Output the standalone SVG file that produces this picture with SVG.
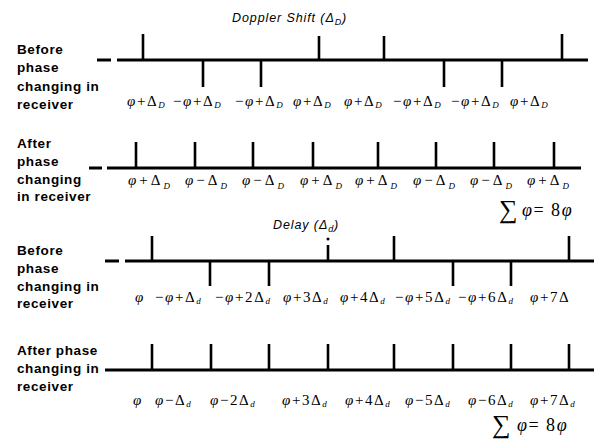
<svg xmlns="http://www.w3.org/2000/svg" width="594" height="441" viewBox="0 0 594 441">
<style>
.lbl{font-family:"Liberation Sans",Arial,sans-serif;font-weight:bold;font-size:13.5px;letter-spacing:0.6px;fill:#000}
.ttl{font-family:"Liberation Sans",Arial,sans-serif;font-style:italic;font-size:12.5px;letter-spacing:0.9px;fill:#000}
.m{font-family:"Liberation Serif","Times New Roman",serif;font-size:15px;letter-spacing:1.6px;fill:#000}
.m2{font-family:"Liberation Serif","Times New Roman",serif;font-size:15px;letter-spacing:3px;fill:#000}
.i{font-style:italic}
.s{font-style:italic;font-size:9px}
.ax{stroke:#000;stroke-width:3;fill:none}
.tk{stroke:#000;stroke-width:2.6;fill:none}
.sig{font-family:"Liberation Serif","DejaVu Serif",serif;font-size:26px;fill:#000}
.eq{font-family:"Liberation Serif","Times New Roman",serif;font-size:18px;letter-spacing:1.5px;fill:#000}
</style>
<rect width="594" height="441" fill="#fff"/>

<g id="row1">
<text class="ttl" x="232" y="22">Doppler Shift (<tspan>Δ</tspan><tspan font-size="9" dy="3">D</tspan><tspan dy="-3">)</tspan></text>
<text class="lbl"><tspan x="17" y="54">Before</tspan><tspan x="17" y="72">phase</tspan><tspan x="17" y="91">changing in</tspan><tspan x="17" y="109">receiver</tspan></text>
<line class="ax" x1="97" y1="60" x2="111" y2="60"/>
<line class="ax" x1="117" y1="60" x2="588" y2="60"/>
<path class="tk" d="M143 34V60M319 36V60M384 36V60M562 34V60M203 60V87M261 60V87M444 60V87M502 60V87"/>
<g class="m">
<text x="127" y="106"><tspan class="i">φ</tspan>+Δ<tspan class="s" dy="2">D</tspan></text>
<text x="173" y="106">−<tspan class="i">φ</tspan>+Δ<tspan class="s" dy="2">D</tspan></text>
<text x="235" y="106">−<tspan class="i">φ</tspan>+Δ<tspan class="s" dy="2">D</tspan></text>
<text x="293" y="106"><tspan class="i">φ</tspan>+Δ<tspan class="s" dy="2">D</tspan></text>
<text x="344" y="106"><tspan class="i">φ</tspan>+Δ<tspan class="s" dy="2">D</tspan></text>
<text x="393" y="106">−<tspan class="i">φ</tspan>+Δ<tspan class="s" dy="2">D</tspan></text>
<text x="451" y="106">−<tspan class="i">φ</tspan>+Δ<tspan class="s" dy="2">D</tspan></text>
<text x="510" y="106"><tspan class="i">φ</tspan>+Δ<tspan class="s" dy="2">D</tspan></text>
</g>
</g>

<g id="row2">
<text class="lbl"><tspan x="17" y="148">After</tspan><tspan x="17" y="166">phase</tspan><tspan x="17" y="184">changing</tspan><tspan x="17" y="201">in receiver</tspan></text>
<line class="ax" x1="89" y1="168" x2="102" y2="168"/>
<line class="ax" x1="107" y1="168" x2="581" y2="168"/>
<path class="tk" d="M136 142V168M195 142V168M253 142V168M313 142V168M378 142V168M436 142V168M494 142V168M554 142V168"/>
<g class="m2">
<text x="128" y="185"><tspan class="i">φ</tspan>+Δ<tspan class="s" dy="4">D</tspan></text>
<text x="185" y="185"><tspan class="i">φ</tspan>−Δ<tspan class="s" dy="4">D</tspan></text>
<text x="242" y="185"><tspan class="i">φ</tspan>−Δ<tspan class="s" dy="4">D</tspan></text>
<text x="300" y="185"><tspan class="i">φ</tspan>+Δ<tspan class="s" dy="4">D</tspan></text>
<text x="355" y="185"><tspan class="i">φ</tspan>+Δ<tspan class="s" dy="4">D</tspan></text>
<text x="413" y="185"><tspan class="i">φ</tspan>−Δ<tspan class="s" dy="4">D</tspan></text>
<text x="470" y="185"><tspan class="i">φ</tspan>−Δ<tspan class="s" dy="4">D</tspan></text>
<text x="527" y="185"><tspan class="i">φ</tspan>+Δ<tspan class="s" dy="4">D</tspan></text>
</g>
<text class="sig" x="499" y="218">∑</text>
<text class="eq" x="522" y="216"><tspan class="i">φ</tspan>= 8<tspan class="i">φ</tspan></text>
</g>

<g id="row3">
<text class="ttl" x="273" y="229">Delay (<tspan>Δ</tspan><tspan font-size="9" dy="3">d</tspan><tspan dy="-3">)</tspan></text>
<text class="lbl"><tspan x="17" y="255">Before</tspan><tspan x="17" y="273">phase</tspan><tspan x="17" y="291">changing in</tspan><tspan x="17" y="308">receiver</tspan></text>
<line class="ax" x1="105" y1="261" x2="119" y2="261"/>
<line class="ax" x1="125" y1="261" x2="594" y2="261"/>
<path class="tk" d="M152 236V261M328 245V261M394 236V261M569 236V261M210 261V286M269 261V286M453 261V286M511 261V286"/>
<circle cx="328" cy="239" r="1.5" fill="#000"/>
<g class="m">
<text x="135" y="302" class="i">φ</text>
<text x="155" y="302">−<tspan class="i">φ</tspan>+Δ<tspan class="s" dy="2">d</tspan></text>
<text x="215" y="302">−<tspan class="i">φ</tspan>+2Δ<tspan class="s" dy="2">d</tspan></text>
<text x="283" y="302"><tspan class="i">φ</tspan>+3Δ<tspan class="s" dy="2">d</tspan></text>
<text x="340" y="302"><tspan class="i">φ</tspan>+4Δ<tspan class="s" dy="2">d</tspan></text>
<text x="395" y="302">−<tspan class="i">φ</tspan>+5Δ<tspan class="s" dy="2">d</tspan></text>
<text x="458" y="302">−<tspan class="i">φ</tspan>+6Δ<tspan class="s" dy="2">d</tspan></text>
<text x="530" y="302"><tspan class="i">φ</tspan>+7Δ</text>
</g>
</g>

<g id="row4">
<text class="lbl"><tspan x="17" y="355">After  phase</tspan><tspan x="17" y="373">changing in</tspan><tspan x="17" y="391">receiver</tspan></text>
<line class="ax" x1="105" y1="370" x2="594" y2="370"/>
<path class="tk" d="M152 344V370M211 344V370M269 344V370M328 344V370M394 344V370M453 344V370M511 344V370M569 344V370"/>
<g class="m">
<text x="133" y="405" class="i">φ</text>
<text x="155" y="405"><tspan class="i">φ</tspan>−Δ<tspan class="s" dy="2">d</tspan></text>
<text x="210" y="405"><tspan class="i">φ</tspan>−2Δ<tspan class="s" dy="2">d</tspan></text>
<text x="282" y="405"><tspan class="i">φ</tspan>+3Δ<tspan class="s" dy="2">d</tspan></text>
<text x="345" y="405"><tspan class="i">φ</tspan>+4Δ<tspan class="s" dy="2">d</tspan></text>
<text x="405" y="405"><tspan class="i">φ</tspan>−5Δ<tspan class="s" dy="2">d</tspan></text>
<text x="468" y="405"><tspan class="i">φ</tspan>−6Δ<tspan class="s" dy="2">d</tspan></text>
<text x="530" y="405"><tspan class="i">φ</tspan>+7Δ<tspan class="s" dy="2">d</tspan></text>
</g>
<text class="sig" x="492" y="433">∑</text>
<text class="eq" x="517" y="431"><tspan class="i">φ</tspan>= 8<tspan class="i">φ</tspan></text>
</g>
</svg>
